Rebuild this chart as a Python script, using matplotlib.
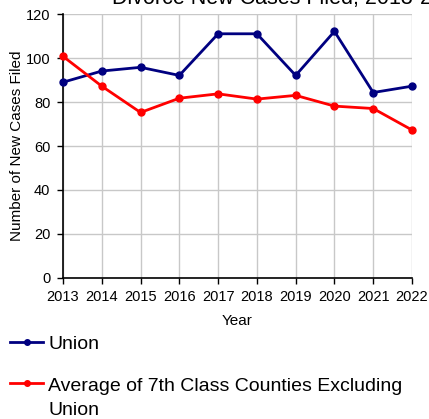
import matplotlib.pyplot as plt
from matplotlib.lines import Line2D

# data
years = [2013, 2014, 2015, 2016, 2017, 2018, 2019, 2020, 2021, 2022]
union = [89.1, 94.2, 95.9, 92.2, 111.2, 111.2, 92.2, 112.3, 84.4, 87.3]
avg_7th = [100.9, 87.3, 75.3, 81.8, 83.8, 81.4, 83.1, 78.2, 77.1, 67.3]
y_ticks = [0, 20, 40, 60, 80, 100, 120]

navy = '#000080'
red = '#ff0000'

plt.rcParams['font.family'] = ['Liberation Sans', 'DejaVu Sans']

W, H = 429, 419
fig = plt.figure(figsize=(W / 100, H / 100), dpi=100)
ax = fig.add_axes([63 / W, 1 - 277.5 / H, (412 - 63) / W, (277.5 - 14.5) / H])

ax.plot(years, union, color=navy, lw=2, marker='o', ms=5, clip_on=False, zorder=3)
ax.plot(years, avg_7th, color=red, lw=2, marker='o', ms=5, clip_on=False, zorder=3)

ax.set_xlim(years[0], years[-1])
ax.set_ylim(0, 120)
ax.set_xticks(years)
ax.set_yticks(y_ticks)
ax.tick_params(labelsize=10.5, length=4, width=1, direction='out', pad=5)
ax.grid(True, color='#c8c8c8', lw=1)
ax.set_axisbelow(True)
for s in ['top', 'right']:
    ax.spines[s].set_visible(False)
ax.spines['left'].set_linewidth(1.2)
ax.spines['bottom'].set_linewidth(1.2)

ax.set_xlabel('Year', fontsize=11, labelpad=7)
ax.set_ylabel('Number of New Cases Filed', fontsize=11, labelpad=1.5)

# title, cut off at the top like the reference
fig.text(112 / W, 1 - 4 / H, 'Divorce New Cases Filed, 2013-2022',
         fontsize=15.5, ha='left', va='baseline')

# legend drawn by hand so the handle sits on the first text line
labels = ['Union', 'Average of 7th Class Counties Excluding\nUnion']
colors = [navy, red]
handle_y = [342, 383]
text_y = [348.5, 414.5]  # baseline of the last line
for lab, col, hy, ty in zip(labels, colors, handle_y, text_y):
    fig.add_artist(Line2D([10 / W, 43 / W], [1 - hy / H, 1 - hy / H],
                          color=col, lw=2, transform=fig.transFigure))
    fig.add_artist(Line2D([26.5 / W], [1 - hy / H], color=col, marker='o', ms=4,
                          transform=fig.transFigure))
    fig.text(48 / W, 1 - ty / H, lab, fontsize=14, ha='left', va='baseline',
             linespacing=1.5, transform=fig.transFigure)

fig.savefig('out.png', dpi=100)
